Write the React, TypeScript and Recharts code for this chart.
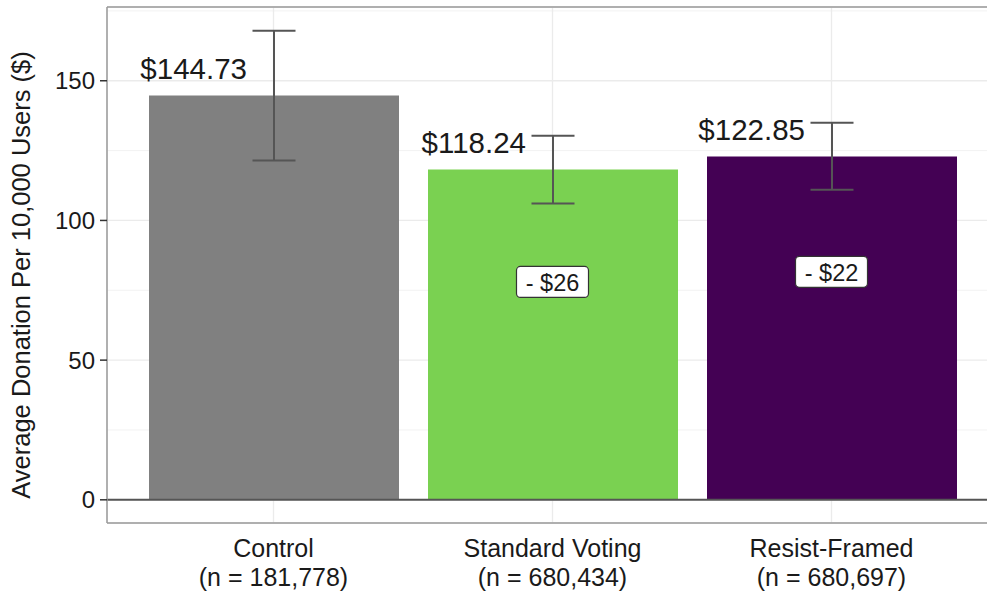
import React from "react";
import {
  BarChart,
  Bar,
  XAxis,
  YAxis,
  CartesianGrid,
  ErrorBar,
  LabelList,
  ReferenceLine,
  ReferenceDot,
  Cell,
} from "recharts";

const categories = ["Control", "Standard Voting", "Resist-Framed"];
const sampleSizes = ["(n = 181,778)", "(n = 680,434)", "(n = 680,697)"];
const donations = [144.73, 118.24, 122.85];
const errLow = [23.3, 12.2, 11.9];
const errHigh = [23.2, 12.1, 12.1];
const barColors = ["#808080", "#7AD151", "#440154"];
const diffLabels = ["", "- $26", "- $22"];
const diffLabelY = [0, 78, 81.6];
const yTicks = [0, 50, 100, 150];
const yMinor = [25, 75, 125, 175];
const yDomain = [-8.3, 176.4];

const data = categories.map((name, i) => ({
  name,
  value: donations[i],
  err: [errLow[i], errHigh[i]],
}));

const FONT = "'Liberation Sans', Arial, Helvetica, sans-serif";
const TEXT = "#1a1a1a";

const XTick = (props: any) => {
  const { x, y, payload } = props;
  const i = payload.index ?? categories.indexOf(payload.value);
  return (
    <g>
      <text x={x} y={y + 17} textAnchor="middle" dominantBaseline="central" fontSize={25} fill={TEXT}>
        {payload.value}
      </text>
      <text x={x} y={y + 46} textAnchor="middle" dominantBaseline="central" fontSize={25} fill={TEXT}>
        {sampleSizes[i]}
      </text>
    </g>
  );
};

const ValueLabel = (props: any) => {
  const vb = props.viewBox ?? props;
  const x = vb.x ?? props.x;
  const y = vb.y ?? props.y;
  const w = vb.width ?? props.width;
  return (
    <text
      x={x + w / 2 - 27}
      y={y - 27}
      textAnchor="end"
      dominantBaseline="central"
      fontSize={29.5}
      fill={TEXT}
    >
      {"$" + Number(props.value).toFixed(2)}
    </text>
  );
};

const DiffBox = (text: string) => (props: any) => {
  const { cx, cy } = props;
  return (
    <g>
      <rect x={cx - 36} y={cy - 15.5} width={72} height={31} rx={4} fill="#ffffff" stroke="#333" strokeWidth={1.2} />
      <text x={cx} y={cy + 1} textAnchor="middle" dominantBaseline="central" fontSize={23.5} fill={TEXT}>
        {text}
      </text>
    </g>
  );
};

export default function App() {
  return (
    <div
      style={{
        position: "absolute",
        left: 0,
        top: 0,
        width: 987,
        height: 593,
        overflow: "hidden",
        background: "#fff",
        fontFamily: FONT,
      }}
    >
      <BarChart
        width={998}
        height={593}
        data={data}
        margin={{ top: 7, right: 0, left: 0, bottom: 0 }}
        style={{ fontFamily: FONT }}
      >
        <CartesianGrid
          vertical={false}
          horizontalValues={yMinor}
          stroke="#f2f2f2"
          strokeWidth={1}
        />
        <CartesianGrid stroke="#ebebeb" strokeWidth={1.3} />
        <XAxis
          dataKey="name"
          height={70}
          padding={{ left: 27, right: 27 }}
          tickLine={false}
          axisLine={{ stroke: "#9a9a9a", strokeWidth: 1.5 }}
          tick={<XTick />}
          interval={0}
        />
        <YAxis
          width={107}
          domain={yDomain}
          ticks={yTicks}
          allowDataOverflow
          tickSize={7}
          tickMargin={5}
          tickLine={{ stroke: "#333", strokeWidth: 1.5 }}
          axisLine={{ stroke: "#9a9a9a", strokeWidth: 1.5 }}
          tick={{ fill: TEXT, fontSize: 24 }}
          label={{
            content: (p: any) => {
              const vb = p.viewBox;
              const cx = vb.x + 21;
              const cy = vb.y + vb.height / 2 + 10;
              return (
                <text
                  x={cx}
                  y={cy}
                  transform={`rotate(-90, ${cx}, ${cy})`}
                  textAnchor="middle"
                  dominantBaseline="central"
                  fontSize={25.5}
                  fill={TEXT}
                >
                  Average Donation Per 10,000 Users ($)
                </text>
              );
            },
          }}
        />
        <ReferenceLine y={yDomain[1]} stroke="#9a9a9a" strokeWidth={1.5} ifOverflow="extendDomain" />
        <Bar dataKey="value" barSize={250} isAnimationActive={false}>
          {data.map((d, i) => (
            <Cell key={d.name} fill={barColors[i]} />
          ))}
          <ErrorBar dataKey="err" direction="y" width={21.5} stroke="#555" strokeWidth={2} />
          <LabelList dataKey="value" content={<ValueLabel />} />
        </Bar>
        <ReferenceLine y={0} stroke="#555" strokeWidth={2} />
        {categories.map((c, i) =>
          diffLabels[i] ? (
            <ReferenceDot
              key={c}
              x={c}
              y={diffLabelY[i]}
              r={0}
              shape={DiffBox(diffLabels[i])}
            />
          ) : null
        )}
      </BarChart>
    </div>
  );
}
